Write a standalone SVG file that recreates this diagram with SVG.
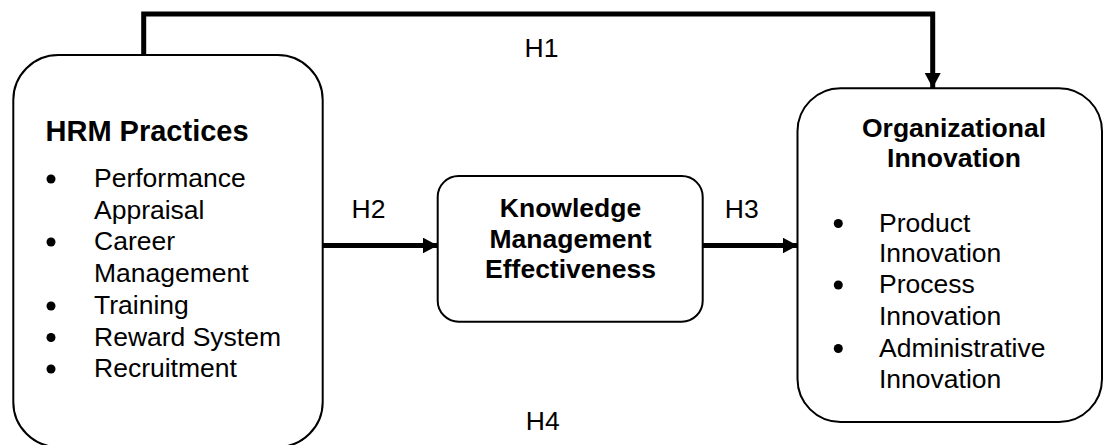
<svg xmlns="http://www.w3.org/2000/svg" width="1104" height="445" viewBox="0 0 1104 445">
<style>
.box{fill:#fff;stroke:#000;stroke-width:2}
.conn{fill:none;stroke:#000;stroke-width:5}
text{font-family:"Liberation Sans",Arial,sans-serif;fill:#000}
.t{font-size:26.5px}
.b{font-size:26.5px;font-weight:bold}
.h{font-size:29px;font-weight:bold}
.lbl{font-size:26.5px}
</style>
<defs>
<marker id="arr" markerUnits="userSpaceOnUse" markerWidth="16" markerHeight="18" refX="15" refY="8" orient="auto">
<polygon points="0,0 15,8 0,16" fill="#000"/>
</marker>
</defs>
<rect width="1104" height="445" fill="#fff"/>
<g id="connectors">
<polyline class="conn" points="143.7,55 143.7,14 932.7,14 932.7,88" marker-end="url(#arr)"/>
<line class="conn" x1="323" y1="245.5" x2="437.7" y2="245.5" marker-end="url(#arr)"/>
<line class="conn" x1="703" y1="245.5" x2="797.5" y2="245.5" marker-end="url(#arr)"/>
<text class="lbl" x="524.5" y="56.7">H1</text>
<text class="lbl" x="351.5" y="218.3">H2</text>
<text class="lbl" x="724.8" y="218.3">H3</text>
<text class="lbl" x="525.8" y="430">H4</text>
</g>
<g id="hrm">
<rect class="box" x="13.3" y="55" width="309.4" height="392" rx="45" ry="45"/>
<text class="h" x="45.5" y="141">HRM Practices</text>
<g fill="#000">
<circle cx="51" cy="179" r="4.5"/>
<circle cx="51" cy="242" r="4.5"/>
<circle cx="51" cy="306" r="4.5"/>
<circle cx="51" cy="337.5" r="4.5"/>
<circle cx="51" cy="369" r="4.5"/>
</g>
<text class="t" x="94" y="187">Performance</text>
<text class="t" x="94" y="218.7">Appraisal</text>
<text class="t" x="94" y="250.4">Career</text>
<text class="t" x="94" y="282.1">Management</text>
<text class="t" x="94" y="313.8">Training</text>
<text class="t" x="94" y="345.5">Reward System</text>
<text class="t" x="94" y="377.2">Recruitment</text>
</g>
<g id="kme">
<rect class="box" x="437.7" y="176" width="265" height="145.7" rx="21" ry="21"/>
<text class="b" x="570.5" y="217.3" text-anchor="middle">Knowledge</text>
<text class="b" x="570.5" y="248.3" text-anchor="middle">Management</text>
<text class="b" x="570.5" y="278.3" text-anchor="middle">Effectiveness</text>
</g>
<g id="oi">
<rect class="box" x="797.5" y="88.3" width="304.5" height="333.7" rx="43" ry="43"/>
<text class="b" x="954" y="136.7" text-anchor="middle">Organizational</text>
<text class="b" x="954" y="166.7" text-anchor="middle">Innovation</text>
<g fill="#000">
<circle cx="838.3" cy="223.5" r="4.5"/>
<circle cx="838.3" cy="285" r="4.5"/>
<circle cx="838.3" cy="348.5" r="4.5"/>
</g>
<text class="t" x="879" y="231.7">Product</text>
<text class="t" x="879" y="262">Innovation</text>
<text class="t" x="879" y="293.3">Process</text>
<text class="t" x="879" y="325">Innovation</text>
<text class="t" x="879" y="356.7">Administrative</text>
<text class="t" x="879" y="388.3">Innovation</text>
</g>
</svg>
